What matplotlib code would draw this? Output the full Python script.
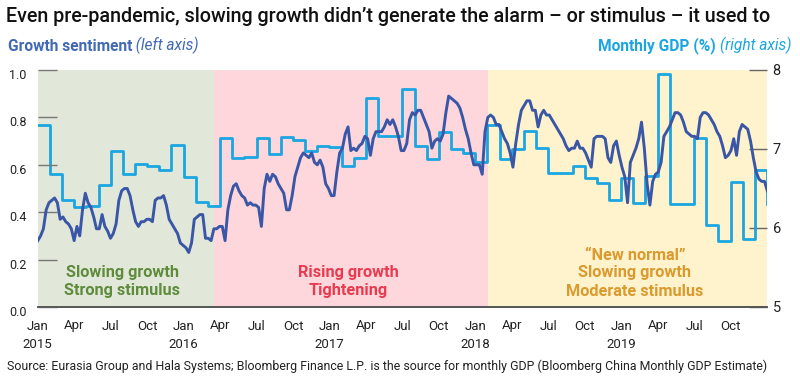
import numpy as np
import matplotlib.pyplot as plt
from matplotlib import transforms

plt.rcParams['font.family'] = ['Roboto', 'DejaVu Sans']

# Bloomberg China monthly GDP estimate (%), Jan 2015 .. Jan 2020
gdp = [7.30, 6.68, 6.35, 6.26, 6.28, 6.54, 6.98, 6.68, 6.81, 6.78, 6.73, 7.05,
       6.65, 6.33, 6.28, 7.14, 6.88, 6.90, 7.14, 6.94, 7.15, 7.11, 6.97, 7.04,
       7.03, 6.78, 6.89, 7.65, 7.16, 7.16, 7.76, 7.04, 6.87, 7.21, 7.00, 6.95,
       6.84, 7.31, 6.87, 7.00, 7.23, 7.01, 6.70, 6.70, 6.78, 6.63, 6.57, 6.36,
       6.63, 6.32, 6.66, 7.95, 6.30, 6.31, 7.14, 6.04, 5.83, 6.58, 5.86, 6.73,
       6.31]

# growth sentiment index, weekly readings from 1 Jan 2015
sentiment = [
    0.28, 0.30, 0.33, 0.41, 0.44, 0.45, 0.46, 0.44, 0.37, 0.38, 0.36, 0.35, 0.33, 0.28,
    0.34, 0.30, 0.41, 0.48, 0.44, 0.42, 0.38, 0.33, 0.33, 0.39, 0.34, 0.32, 0.29, 0.31,
    0.35, 0.45, 0.49, 0.50, 0.50, 0.47, 0.41, 0.36, 0.34, 0.36, 0.36, 0.37, 0.37, 0.36,
    0.45, 0.46, 0.46, 0.47, 0.43, 0.37, 0.35, 0.33, 0.31, 0.27, 0.26, 0.25, 0.23,
    0.27, 0.37, 0.38, 0.39, 0.39, 0.29, 0.29, 0.28, 0.33, 0.33, 0.34, 0.34, 0.28, 0.41,
    0.47, 0.51, 0.52, 0.49, 0.47, 0.46, 0.43, 0.44, 0.43, 0.43, 0.42, 0.34, 0.50, 0.56,
    0.53, 0.56, 0.55, 0.52, 0.50, 0.48, 0.41, 0.41, 0.47, 0.55, 0.59, 0.63, 0.65, 0.64,
    0.63, 0.65, 0.61, 0.60, 0.62, 0.59,
    0.52, 0.50, 0.47, 0.47, 0.57, 0.65, 0.67, 0.73, 0.76, 0.66, 0.67, 0.66, 0.68, 0.69,
    0.72, 0.71, 0.64, 0.71, 0.74, 0.74, 0.74, 0.76, 0.79, 0.77, 0.79, 0.76, 0.72, 0.66,
    0.66, 0.69, 0.79, 0.82, 0.81, 0.83, 0.83, 0.80, 0.77, 0.74, 0.67, 0.70, 0.71, 0.70,
    0.73, 0.82, 0.89, 0.88, 0.87, 0.86, 0.84, 0.80, 0.75, 0.71,
    0.65, 0.60, 0.60, 0.60, 0.56, 0.74, 0.80, 0.81, 0.80, 0.77, 0.77, 0.74, 0.71, 0.69,
    0.65, 0.59, 0.69, 0.77, 0.83, 0.85, 0.87, 0.87, 0.83, 0.83, 0.76, 0.81, 0.83, 0.81,
    0.81, 0.79, 0.77, 0.75, 0.73, 0.71, 0.68, 0.66, 0.67, 0.67, 0.70, 0.67, 0.67, 0.65,
    0.62, 0.59, 0.71, 0.72, 0.72, 0.72, 0.71, 0.63, 0.61, 0.68,
    0.70, 0.64, 0.59, 0.55, 0.44, 0.61, 0.64, 0.67, 0.71, 0.78, 0.67, 0.52, 0.43, 0.53,
    0.56, 0.57, 0.61, 0.72, 0.74, 0.76, 0.79, 0.82, 0.82, 0.81, 0.78, 0.74, 0.73, 0.72,
    0.72, 0.71, 0.80, 0.82, 0.82, 0.81, 0.79, 0.77, 0.74, 0.72, 0.68, 0.63, 0.64, 0.66,
    0.71, 0.64, 0.74, 0.77, 0.76, 0.75, 0.70, 0.63, 0.57, 0.54, 0.53, 0.53, 0.49]

# policy regimes (decimal years)
regime_start = [2015.0, 2016.21, 2018.09]
regime_end = [2016.21, 2018.09, 2020.0]
regime_fill = ['#e2e8d9', '#fdd7db', '#fef3cd']
regime_text = [["Slowing growth", "Strong stimulus"],
               ["Rising growth", "Tightening"],
               ["\u201cNew normal\u201d", "Slowing growth", "Moderate stimulus"]]
regime_color = ['#5e8b3c', '#ea3a4f', '#da9a2e']

months = ['Jan', 'Apr', 'Jul', 'Oct']
tick_pos = 2015 + np.arange(20) / 4
tick_lab = [months[i % 4] + ('\n%d' % (2015 + i // 4) if i % 4 == 0 else '')
            for i in range(20)]

gdp_t = 2015 + np.arange(len(gdp)) / 12
sent_t = 2015 + np.arange(len(sentiment)) * 7 / 365.25

W, H = 800, 382
fig = plt.figure(figsize=(W / 100, H / 100), dpi=100)
ax = fig.add_axes([37.8 / W, 1 - 307 / H, (767 - 37.8) / W, (307 - 70) / H])

for s, e, c in zip(regime_start, regime_end, regime_fill):
    ax.axvspan(s, e, color=c, lw=0, zorder=0)

ax.step(gdp_t, gdp, where='post', color='#1ba6e1', lw=2.0, zorder=2)
ax.set_ylim(5, 8)
ax.set_xlim(2015, 2020)
ax.set_xticks(tick_pos)
ax.set_xticklabels(tick_lab, linespacing=1.5)
ax.tick_params(axis='x', length=0, pad=9, labelsize=9.5, labelcolor='#222')

ax2 = ax.twinx()
ax2.plot(sent_t, sentiment, color='#3a56a6', lw=2.1, zorder=3)
ax2.set_ylim(0, 1)

ax.yaxis.tick_right()
ax.set_yticks([5, 6, 7, 8])
ax.tick_params(axis='y', direction='in', length=13, width=1.0, color='#666',
               pad=4, labelsize=10.5, labelcolor='#222')

ax2.yaxis.tick_left()
ax2.set_yticks(np.arange(0, 1.01, 0.2))
ax2.set_yticklabels(['%.1f' % v for v in np.arange(0, 1.01, 0.2)])
ax2.tick_params(axis='y', direction='in', length=14, width=1.0, color='#777',
                pad=8, labelsize=9, labelcolor='#222')
shift = transforms.ScaledTranslation(0, -4 / 100, fig.dpi_scale_trans)
for lab in ax2.get_yticklabels():
    lab.set_transform(lab.get_transform() + shift)

for a in (ax, ax2):
    for side in ('top', 'left', 'right'):
        a.spines[side].set_visible(False)
    a.spines['bottom'].set_color('#555')
    a.spines['bottom'].set_linewidth(1.2)

# regime captions
cx = [122, 348, 635]
for x, lines, c in zip(cx, regime_text, regime_color):
    rows = [291 - 18 * (len(lines) - 1 - i) for i in range(len(lines))]
    for y, t in zip(rows, lines):
        fig.text(x / W, 1 - y / H, t, ha='center', va='center', fontsize=11.7,
                 fontweight='bold', color=c)

fig.text(6 / W, 1 - 16 / H,
         "Even pre-pandemic, slowing growth didn\u2019t generate the alarm \u2013 or stimulus \u2013 it used to",
         fontsize=14.2, fontweight='medium', va='center', color='#111')

t1 = fig.text(8 / W, 1 - 54 / H, "Growth sentiment", fontsize=11.2,
              fontweight='bold', color='#4169b5', va='bottom')
ax.annotate(" (left axis)", xy=(1, 0), xycoords=t1, fontsize=11.2,
            style='italic', color='#4169b5', va='bottom', annotation_clip=False)
t2 = fig.text(791 / W, 1 - 54 / H, "(right axis)", fontsize=11.2, style='italic',
              color='#1ba6e1', ha='right', va='bottom')
ax.annotate("Monthly GDP (%) ", xy=(0, 0), xycoords=t2, fontsize=11.2,
            fontweight='bold', color='#1ba6e1', ha='right', va='bottom',
            annotation_clip=False)

fig.text(7 / W, 1 - 366 / H,
         "Source: Eurasia Group and Hala Systems; Bloomberg Finance L.P. is the source for monthly GDP "
         "(Bloomberg China Monthly GDP Estimate)",
         fontsize=8.9, va='center', color='#222')

fig.savefig('out.png', dpi=100)
